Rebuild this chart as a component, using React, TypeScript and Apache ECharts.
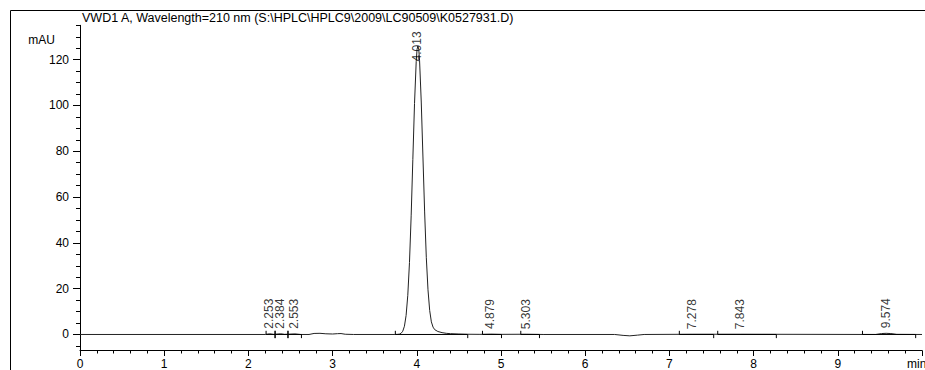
import React, { useEffect, useRef } from "react";
import * as echarts from "echarts";

// ---- data ----
const titleText = "VWD1 A, Wavelength=210 nm (S:\\HPLC\\HPLC9\\2009\\LC90509\\K0527931.D)";
const yUnit = "mAU";
const xUnit = "min";

// signal trace: [time (min), absorbance (mAU)]
const signal: [number, number][] = [
  [0, 0], [2.2, 0], [2.253, 0.3], [2.3, 0.05], [2.384, 0.3], [2.43, 0.05],
  [2.553, 0.25], [2.62, 0], [2.72, 0], [2.78, 0.45], [2.85, 0.5], [2.92, 0.3],
  [3.0, 0.2], [3.06, 0.35], [3.1, 0.4], [3.15, 0.1], [3.25, 0], [3.74, 0],
  [3.773, 0.05], [3.793, 0.15], [3.813, 0.5], [3.833, 1.4], [3.853, 3.6],
  [3.873, 8.3], [3.893, 17.1], [3.913, 31.4], [3.933, 51.8], [3.953, 76.4],
  [3.973, 100.9], [3.993, 119.2], [4.003, 124.5], [4.013, 126], [4.023, 124.6],
  [4.033, 119.5], [4.053, 101.5], [4.073, 77.5], [4.093, 53.5], [4.113, 33.5],
  [4.133, 19.5], [4.153, 10.5], [4.173, 5.5], [4.193, 3.2], [4.213, 2.1],
  [4.25, 1.3], [4.3, 0.8], [4.35, 0.5], [4.4, 0.35], [4.5, 0.2], [4.6, 0.1],
  [4.75, 0.05], [4.879, 0.15], [5.0, 0.05], [5.303, 0.1], [5.5, 0], [6.35, 0],
  [6.45, -0.4], [6.53, -0.6], [6.62, -0.3], [6.7, 0], [7.278, 0.1], [7.843, 0.1],
  [9.45, 0], [9.52, 0.4], [9.574, 0.5], [9.63, 0.4], [9.7, 0.05], [10, 0],
];

// integrated peaks
const peakTimes = [2.253, 2.384, 2.553, 4.013, 4.879, 5.303, 7.278, 7.843, 9.574];
const peakHeights = [0.3, 0.3, 0.25, 126, 0.15, 0.1, 0.1, 0.1, 0.5];

// integration baselines [start, end] (min) and valley drop lines
const baselineSegments: [number, number][] = [
  [2.21, 2.63], [3.745, 4.605], [4.78, 5.006], [5.235, 5.457],
  [7.118, 7.526], [7.574, 8.27], [9.293, 9.925],
];
const valleyDrops = [2.317, 2.47];

// axes
const xMin = 0;
const xMax = 10;
const xInterval = 1;
const yMin = -7;
const yMax = 135;
const yMajorTicks = [0, 20, 40, 60, 80, 100, 120];
const yMinorTicks = [-5, 5, 10, 15, 25, 30, 35, 45, 50, 55, 65, 70, 75, 85, 90, 95, 105, 110, 115, 125, 130, 135];

const FONT = "'Liberation Sans', Arial, sans-serif";
const FS = 12;
const MARK = 1.6; // integration tick height (mAU)
const LABEL_GAP = 2; // label start above apex (mAU)
const LABEL_CEIL = 119; // labels cannot rise above this

export default function App() {
  const ref = useRef<HTMLDivElement>(null);

  useEffect(() => {
    if (!ref.current) return;
    const chart = echarts.init(ref.current, undefined, { renderer: "svg" });

    const integ: any[] = [];
    baselineSegments.forEach(([s, e]) => {
      integ.push([s, MARK], [s, 0]);
      valleyDrops
        .filter((v) => v > s && v < e)
        .forEach((v) => {
          integ.push([v, 0], [v, MARK], [v, -MARK], [v, 0]);
        });
      integ.push([e, 0], [e, -MARK]);
      integ.push([null, null]);
    });

    const labelData = peakTimes.map((t, i) => [
      t,
      Math.min(peakHeights[i] + LABEL_GAP, LABEL_CEIL),
    ]);

    const axisColor = "#000";

    chart.setOption({
      animation: false,
      backgroundColor: "#fff",
      grid: { left: 80, top: 25.3, width: 849, height: 325.2, containLabel: false },
      xAxis: {
        type: "value",
        min: xMin,
        max: xMax,
        interval: xInterval,
        axisLine: { show: true, onZero: false, lineStyle: { color: axisColor, width: 1 } },
        axisTick: { show: true, length: 5.5, lineStyle: { color: axisColor, width: 1 } },
        minorTick: { show: true, splitNumber: 5, length: 3, lineStyle: { color: axisColor, width: 1 } },
        splitLine: { show: false },
        minorSplitLine: { show: false },
        axisLabel: {
          margin: 7,
          color: "#000",
          fontSize: FS,
          fontFamily: FONT,
          formatter: (v: number) => (v >= xMax ? "" : String(v)),
        },
      },
      yAxis: [
        {
          type: "value",
          min: yMin,
          max: yMax,
          position: "left",
          axisLine: { show: true, onZero: false, lineStyle: { color: axisColor, width: 1 } },
          axisTick: { show: true, length: 7, customValues: yMajorTicks, lineStyle: { color: axisColor, width: 1 } },
          axisLabel: {
            customValues: yMajorTicks,
            margin: 11,
            color: "#000",
            fontSize: FS,
            fontFamily: FONT,
          },
          splitLine: { show: false },
        },
        {
          type: "value",
          min: yMin,
          max: yMax,
          position: "left",
          offset: 0,
          axisLine: { show: false },
          axisTick: { show: true, length: 4, customValues: yMinorTicks, lineStyle: { color: axisColor, width: 1 } },
          axisLabel: { show: false },
          splitLine: { show: false },
        },
      ],
      series: [
        {
          type: "line",
          data: signal,
          showSymbol: false,
          symbol: "none",
          lineStyle: { color: "#222", width: 1 },
          z: 2,
          silent: true,
        },
        {
          type: "line",
          data: integ,
          showSymbol: false,
          symbol: "none",
          connectNulls: false,
          lineStyle: { color: "#000", width: 1 },
          z: 3,
          silent: true,
        },
        {
          type: "scatter",
          data: labelData,
          symbolSize: 1,
          itemStyle: { color: "rgba(0,0,0,0)" },
          silent: true,
          z: 4,
          label: {
            show: true,
            position: [0, 0],
            rotate: 90,
            align: "left",
            verticalAlign: "middle",
            color: "#000",
            fontSize: FS,
            fontFamily: FONT,
            formatter: (p: any) => peakTimes[p.dataIndex].toFixed(3),
          },
        },
      ],
      graphic: [
        {
          type: "rect",
          silent: true,
          shape: { x: 10.5, y: 10.5, width: 2000, height: 2000 },
          style: { fill: "none", stroke: "#000", lineWidth: 1 },
        },
        {
          type: "text",
          silent: true,
          x: 82,
          y: 17.5,
          style: { text: titleText, fill: "#000", font: `12.5px ${FONT}`, textVerticalAlign: "middle", textAlign: "left" },
        },
        {
          type: "text",
          silent: true,
          x: 55,
          y: 40,
          style: { text: yUnit, fill: "#000", font: `${FS}px ${FONT}`, textVerticalAlign: "middle", textAlign: "right" },
        },
        {
          type: "text",
          silent: true,
          x: 907,
          y: 363.5,
          style: { text: xUnit, fill: "#000", font: `${FS}px ${FONT}`, textVerticalAlign: "middle", textAlign: "left" },
        },
      ],
    });

    return () => chart.dispose();
  }, []);

  return (
    <div
      ref={ref}
      style={{ position: "absolute", left: 0, top: 0, width: 925, height: 370, background: "#fff" }}
    />
  );
}
